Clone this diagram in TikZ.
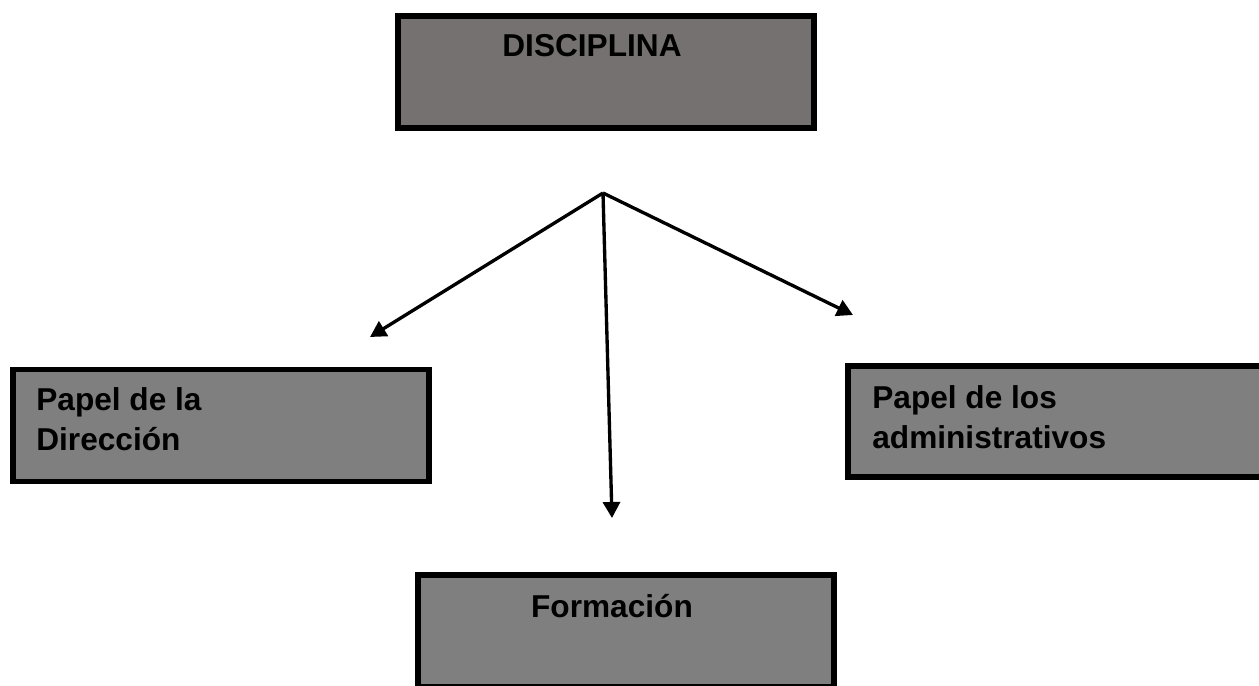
\documentclass[tikz,border=0pt]{standalone}
\usepackage{fontspec}
\setmainfont{Liberation Sans}
\usetikzlibrary{arrows.meta}
\definecolor{topgray}{HTML}{767171}
\definecolor{boxgray}{HTML}{7F7F7F}
\newcommand{\txtsize}{\fontsize{18}{22.2}\selectfont\bfseries}
\tikzset{
  caja/.style={draw=black, line width=3.4pt, fill=boxgray, minimum width=8.32cm, minimum height=2.24cm, inner sep=0pt},
  texto/.style={font=\txtsize, inner sep=0pt, align=left},
  flecha/.style={line width=1.9pt, -{Triangle[length=0.32cm,width=0.34cm]}}
}

\begin{document}
\begin{tikzpicture}[x=0.02cm,y=-0.02cm]
 \useasboundingbox (0,0) rectangle (1259,686);
 \clip (0,0) rectangle (1259,686);

 % cajas
 \node[caja, fill=topgray] (disc) at (606,72) {};
 \node[caja] (dir) at (221,425.5) {};
 \node[caja, minimum height=2.22cm] (adm) at (1056,421.5) {};
 \node[caja] (form) at (626,631) {};

 % textos
 \node[texto, anchor=base] (disctxt) at (592,57) {DISCIPLINA};
 \node[texto, anchor=base west] (dirtxt) at (36,450) {Papel de la\\Dirección};
 \node[texto, anchor=base west] (admtxt) at (872,448) {Papel de los\\administrativos};
 \node[texto, anchor=base] (formtxt) at (612,617) {Formación};

 % flechas
 \coordinate (hub) at (603,193);
 \coordinate (pdir) at (370,337);
 \coordinate (pform) at (612,518);
 \coordinate (padm) at (853,315);
 \draw[flecha] (hub) -- (pdir);
 \draw[flecha] (hub) -- (pform);
 \draw[flecha] (hub) -- (padm);

\end{tikzpicture}
\end{document}
